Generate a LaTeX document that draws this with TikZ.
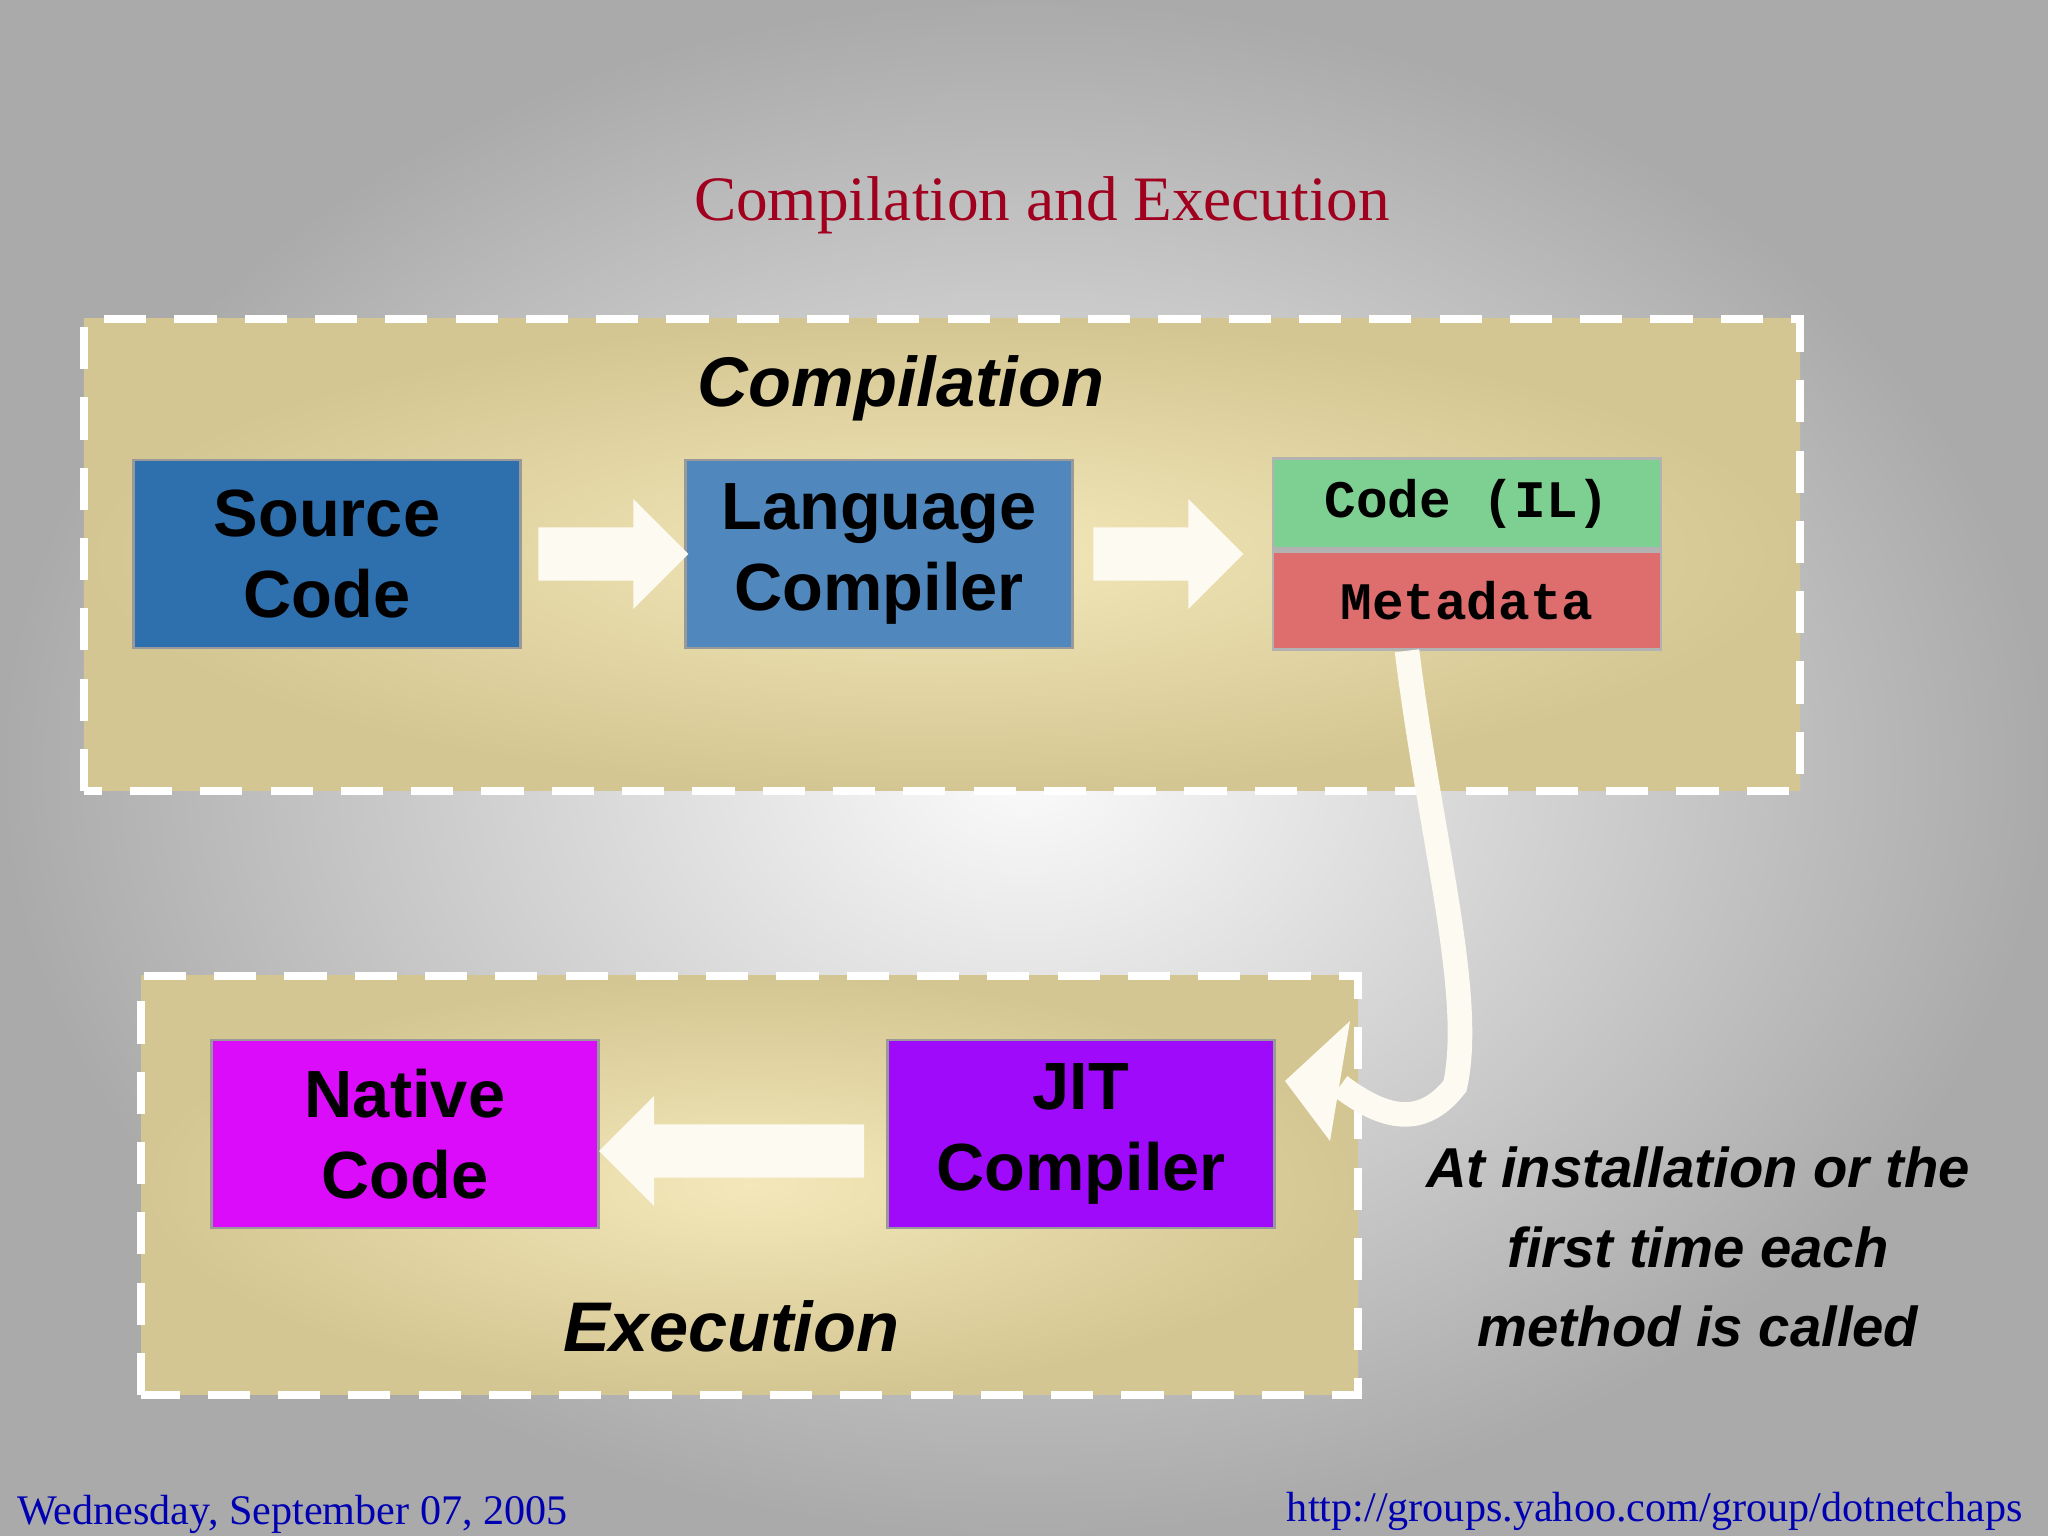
\documentclass[tikz,border=0pt]{standalone}
\usepackage{fontspec}
\setmainfont{Liberation Serif}
\setsansfont{Liberation Sans}
\setmonofont{Liberation Mono}
\usetikzlibrary{shapes.arrows,positioning}
\definecolor{bgray}{RGB}{170,170,170}
\definecolor{tanbox}{RGB}{212,198,146}
\definecolor{tanlight}{RGB}{244,232,186}
\definecolor{srcblue}{RGB}{46,112,174}
\definecolor{langblue}{RGB}{80,136,190}
\definecolor{ilgreen}{RGB}{126,208,146}
\definecolor{metared}{RGB}{222,110,110}
\definecolor{nativemag}{RGB}{218,12,250}
\definecolor{jitpurple}{RGB}{160,10,250}
\definecolor{titlered}{RGB}{160,0,30}
\tikzset{
  stage/.style={draw=black!40, thick, minimum width=3.87cm, minimum height=1.88cm,
    align=center, font=\sffamily\bfseries\fontsize{19}{23}\selectfont},
  part/.style={draw=black!30, thick, minimum width=3.88cm, minimum height=0.9cm,
    font=\ttfamily\bfseries\fontsize{15}{18}\selectfont},
  region/.style={draw=white, line width=2.5pt, dash pattern=on 12pt off 8pt,
    inner color=tanlight, outer color=tanbox},
  flow/.style={single arrow, fill=white!80!tanlight, draw=none,
    minimum height=1.5cm, minimum width=1.1cm, single arrow head extend=0.2cm,
    inner sep=0.18cm, single arrow tip angle=90},
  heading/.style={font=\sffamily\bfseries\itshape\fontsize{20}{24}\selectfont}
}
\begin{document}
\begin{tikzpicture}
\useasboundingbox (0,0) rectangle (20.48,15.36);
% background
\fill[inner color=white!95!bgray, outer color=bgray] (0,0) rectangle (20.48,15.36);
% compilation
\fill[region] (0.84,7.45) rectangle (18.0,12.17);
\node[heading] (comp) at (9.01,11.48) {Compilation};
\node[stage, fill=srcblue] (src) at (3.27,9.82) {Source\\Code};
\node[stage, fill=langblue] (lang) at (8.79,9.82) {Language\\Compiler};
\node[part, fill=ilgreen, anchor=south] (il) at (14.67,9.86) {Code (IL)};
\node[part, fill=metared, below=0pt of il, minimum height=0.98cm] (meta) {Metadata};
\node[flow] (a1) at (6.0,9.82) {};
\node[flow] (a2) at (11.55,9.82) {};
% execution
\fill[region] (1.41,1.41) rectangle (13.58,5.60);
\node[heading] (exec) at (7.31,2.10) {Execution};
\node[stage, fill=nativemag] (native) at (4.05,4.02) {Native\\Code};
\node[stage, fill=jitpurple] (jit) at (10.81,4.02) {JIT\\Compiler};
\node[flow, shape border rotate=180, minimum height=2.65cm] (a3) at (7.45,3.85) {};
% curved flow
\coordinate (bend) at (14.55,4.5);
\draw[white!80!tanlight, line width=7pt]
  (meta.south) ++(-0.6,0) .. controls (14.3,7.0) and (14.75,5.4) .. (bend)
  .. controls (14.2,4.05) and (13.8,4.2) .. (13.4,4.5);
\fill[white!80!tanlight] (12.85,4.55) -- (13.5,5.15) -- (13.3,3.95) -- cycle;
\node[font=\sffamily\bfseries\itshape\fontsize{16}{22.5}\selectfont, align=center]
  (note) at (16.98,2.89) {At installation or the\\first time each\\method is called};
% title and footer
\node[text=titlered, font=\fontsize{18}{21}\selectfont] (title) at (10.42,13.31) {Compilation and Execution};
\node[text=blue!70!black, font=\fontsize{12}{14}\selectfont, anchor=west] (date) at (0.05,0.22) {Wednesday, September 07, 2005};
\node[text=blue!70!black, font=\fontsize{12}{14}\selectfont, anchor=east] (url) at (20.35,0.25) {http://groups.yahoo.com/group/dotnetchaps};
\end{tikzpicture}
\end{document}
